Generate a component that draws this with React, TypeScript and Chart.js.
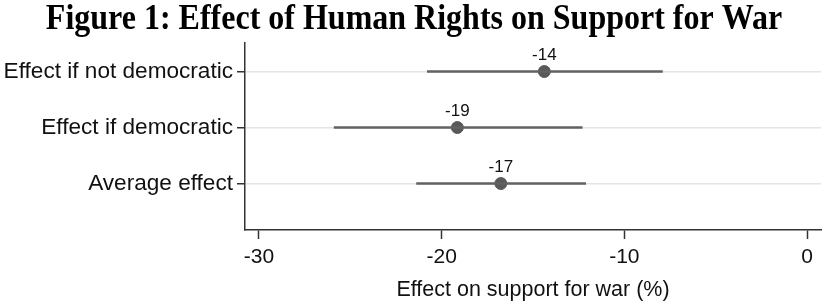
import React, { useEffect, useRef } from "react";
import { Chart, registerables } from "chart.js";

Chart.register(...registerables);

const categories = ["Effect if not democratic", "Effect if democratic", "Average effect"];
const rowPositions = [3, 2, 1];
const estimates = [-14.38, -19.14, -16.76];
const lowerBounds = [-20.8, -25.9, -21.39];
const upperBounds = [-7.9, -12.29, -12.1];
const xTickValues = [-30, -20, -10, 0];

const titleText = "Figure 1: Effect of Human Rights on Support for War";
const xAxisTitle = "Effect on support for war (%)";

const labelPlugin = {
  id: "pointLabels",
  afterDatasetsDraw(chart: any) {
    const idx = chart.data.datasets.findIndex((d: any) => d.isEstimate);
    if (idx < 0) return;
    const meta = chart.getDatasetMeta(idx);
    const ctx = chart.ctx;
    ctx.save();
    ctx.font = "17px 'Liberation Sans', Arial, sans-serif";
    ctx.fillStyle = "#111";
    ctx.textAlign = "center";
    ctx.textBaseline = "middle";
    meta.data.forEach((el: any, i: number) => {
      ctx.fillText(String(Math.round(estimates[i])), el.x, el.y - 16);
    });
    ctx.restore();
  },
};

const titlePlugin = {
  id: "stretchedTitle",
  afterDraw(chart: any) {
    const ctx = chart.ctx;
    ctx.save();
    ctx.font = "bold 32px 'Liberation Serif', 'Times New Roman', serif";
    ctx.fillStyle = "#000";
    ctx.textAlign = "center";
    ctx.textBaseline = "alphabetic";
    ctx.translate(chart.width / 2, 28.5);
    ctx.scale(1, 1.1);
    ctx.fillText(titleText, 0, 0);
    ctx.restore();
  },
};

export default function App() {
  const ref = useRef<HTMLCanvasElement | null>(null);
  useEffect(() => {
    if (!ref.current) return;
    const ciSets = categories.map((c, i) => ({
      type: "line" as const,
      label: c + " CI",
      data: [
        { x: lowerBounds[i], y: rowPositions[i] },
        { x: upperBounds[i], y: rowPositions[i] },
      ],
      borderColor: "#626262",
      borderWidth: 2.5,
      pointRadius: 0,
      showLine: true,
      fill: false,
    }));
    const chart = new Chart(ref.current, {
      type: "scatter",
      data: {
        datasets: [
          ...ciSets,
          {
            type: "scatter" as const,
            label: "Estimate",
            isEstimate: true,
            data: estimates.map((v, i) => ({ x: v, y: rowPositions[i] })),
            backgroundColor: "#595959",
            borderColor: "#595959",
            pointRadius: 6,
            pointHoverRadius: 6,
          } as any,
        ],
      },
      options: {
        responsive: false,
        animation: false,
        events: [],
        layout: { padding: { left: 0, right: 0, top: 43, bottom: 0 } },
        plugins: {
          legend: { display: false },
          tooltip: { enabled: false },
          title: { display: false },
        },
        scales: {
          x: {
            type: "linear",
            min: -30.76,
            max: 0.76,
            afterBuildTicks: (scale: any) => {
              scale.ticks = xTickValues.map((v) => ({ value: v }));
            },
            afterFit: (scale: any) => {
              scale.height = 73;
            },
            ticks: {
              color: "#111",
              font: { family: "'Liberation Sans', Arial, sans-serif", size: 21 },
              padding: 6,
              maxRotation: 0,
              autoSkip: false,
            },
            grid: {
              drawOnChartArea: false,
              drawTicks: true,
              tickLength: 9,
              tickColor: "#333",
              tickWidth: 1.5,
            },
            border: { display: true, color: "#333", width: 1.5 },
            title: {
              display: true,
              text: xAxisTitle,
              color: "#111",
              font: { family: "'Liberation Sans', Arial, sans-serif", size: 21.5 },
              padding: { top: 2, bottom: 0 },
            },
          },
          y: {
            type: "linear",
            min: 0.17,
            max: 3.51,
            afterBuildTicks: (scale: any) => {
              scale.ticks = rowPositions.map((v) => ({ value: v }));
            },
            afterFit: (scale: any) => {
              scale.width = 245;
            },
            ticks: {
              color: "#111",
              font: { family: "'Liberation Sans', Arial, sans-serif", size: 22.6 },
              padding: 4,
              callback: (value: any) => {
                const i = rowPositions.indexOf(Number(value));
                return i >= 0 ? categories[i] : "";
              },
            },
            grid: {
              drawOnChartArea: true,
              drawTicks: true,
              color: "#e4e4e4",
              lineWidth: 1.5,
              tickLength: 8,
              tickColor: "#333",
              tickWidth: 1.5,
            },
            border: { display: true, color: "#333", width: 1.5 },
          },
        },
      },
      plugins: [labelPlugin, titlePlugin],
    } as any);
    return () => chart.destroy();
  }, []);
  return (
    <div style={{ position: "absolute", left: 0, top: 0, width: 828, height: 303, background: "#fff" }}>
      <canvas ref={ref} width={828} height={303} />
    </div>
  );
}
